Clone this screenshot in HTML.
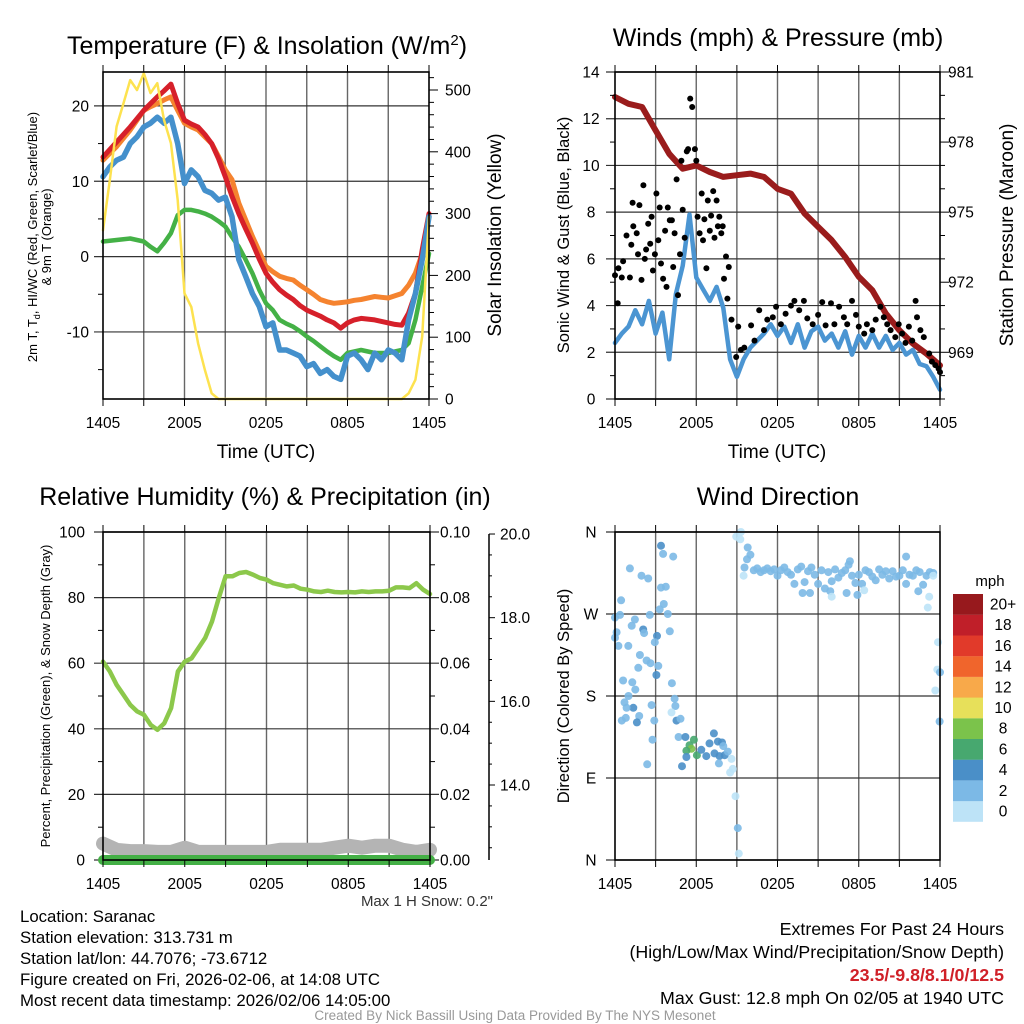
<!DOCTYPE html>
<html><head><meta charset="utf-8"><style>
html,body{margin:0;padding:0;background:#fff;}
svg{display:block;font-family:"Liberation Sans",Arial,sans-serif;}
</style></head><body>
<svg id="fig" width="1024" height="1024" viewBox="0 0 1024 1024" xmlns="http://www.w3.org/2000/svg">
<rect x="0" y="0" width="1024" height="1024" fill="#fff"/>
<g id="marks"></g>
<g id="axes"></g>
<g font-size="25" fill="#000" text-anchor="middle">
<text x="267" y="54">Temperature (F) &amp; Insolation (W/m<tspan dy="-9" font-size="15">2</tspan><tspan dy="9">)</tspan></text>
<text x="778" y="46">Winds (mph) &amp; Pressure (mb)</text>
<text x="265" y="505">Relative Humidity (%) &amp; Precipitation (in)</text>
<text x="778" y="505">Wind Direction</text>
</g>
<g font-size="19" text-anchor="middle">
<text x="266" y="458">Time (UTC)</text>
<text x="777" y="458">Time (UTC)</text>
<text transform="translate(37,237) rotate(-90)" font-size="13">2m T, T<tspan font-size="9" dy="3">d</tspan><tspan dy="-3">, HI/WC (Red, Green, Scarlet/Blue)</tspan></text>
<text transform="translate(51,237) rotate(-90)" font-size="13">&amp; 9m T (Orange)</text>
<text transform="translate(501,235) rotate(-90)">Solar Insolation (Yellow)</text>
<text transform="translate(569,235) rotate(-90)" font-size="16.5">Sonic Wind &amp; Gust (Blue, Black)</text>
<text transform="translate(1013,235) rotate(-90)">Station Pressure (Maroon)</text>
<text transform="translate(50,696) rotate(-90)" font-size="13">Percent, Precipitation (Green), &amp; Snow Depth (Gray)</text>
<text transform="translate(569,696) rotate(-90)" font-size="16.5">Direction (Colored By Speed)</text>
</g>
<g id="cbar">
<text x="990" y="586" font-size="15" text-anchor="middle">mph</text>
</g>
<g font-size="16.8">
<text x="493" y="906" text-anchor="end" fill="#333" font-size="15">Max 1 H Snow: 0.2"</text>
<text x="20" y="922">Location: Saranac</text>
<text x="20" y="943">Station elevation: 313.731 m</text>
<text x="20" y="964">Station lat/lon: 44.7076; -73.6712</text>
<text x="20" y="985">Figure created on Fri, 2026-02-06, at 14:08 UTC</text>
<text x="20" y="1006">Most recent data timestamp: 2026/02/06 14:05:00</text>
<text x="1004" y="935" text-anchor="end" font-size="17.8">Extremes For Past 24 Hours</text>
<text x="1004" y="958" text-anchor="end" font-size="17.8">(High/Low/Max Wind/Precipitation/Snow Depth)</text>
<text x="1004" y="981" text-anchor="end" font-size="17.8" font-weight="bold" fill="#d02028">23.5/-9.8/8.1/0/12.5</text>
<text x="1004" y="1004" text-anchor="end" font-size="17.8">Max Gust: 12.8 mph On 02/05 at 1940 UTC</text>
<text x="515" y="1020" text-anchor="middle" font-size="13.5" fill="#999">Created By Nick Bassill Using Data Provided By The NYS Mesonet</text>
</g>
</svg>
<script>
// ---- data ----
const halfHours = Array.from({length:49},(_,i)=>i*0.5);
const hourly = Array.from({length:25},(_,i)=>i);
const timeTickLabels = ["1405","2005","0205","0805","1405"];
const tempRed = [13.2,14.2,15.2,16.2,17.2,18.3,19.4,20.3,21.2,22.0,22.9,20.3,18.1,17.6,17.2,16.2,15.0,13.0,10.6,8.0,5.7,3.7,1.8,-0.3,-2.2,-3.4,-4.4,-5.1,-5.7,-6.5,-7.1,-7.5,-7.9,-8.4,-8.8,-9.5,-8.8,-8.4,-8.2,-8.3,-8.4,-8.6,-8.8,-9.0,-9.1,-7.5,-4.9,0.9,5.7];
const temp9m = [12.8,13.7,14.6,15.7,16.8,18.1,19.4,19.9,20.3,20.8,21.2,19.4,17.7,17.2,16.8,15.9,15.0,13.3,11.5,10.2,7.1,4.9,2.7,0.7,-1.3,-2.0,-2.6,-2.9,-3.1,-3.8,-4.4,-5.0,-5.7,-6.0,-6.2,-6.1,-6.0,-5.8,-5.7,-5.5,-5.3,-5.4,-5.5,-5.2,-4.9,-3.8,-2.2,0.4,5.3];
const windChill = [10.6,11.9,12.8,13.2,15,15.9,17.2,17.7,18.5,17.7,18.5,15,9.7,11.5,10.6,8.8,8.4,7.5,7.9,5.3,-0.4,-2.6,-4.9,-6.6,-9.3,-8.8,-12.4,-12.4,-12.8,-13.2,-14.6,-14.2,-15.5,-15.0,-15.9,-16.3,-13.2,-12.8,-13.7,-15,-12.8,-13.7,-12.4,-12.8,-13.7,-8.4,-4.9,-0.4,5.3];
const dewPoint = [2.0,2.1,2.2,2.3,2.4,2.2,2.0,1.3,0.7,1.8,3.1,5.5,6.2,6.2,6.0,5.7,5.3,4.7,4.0,2.6,1.3,-0.4,-2.2,-4.4,-6.2,-7.1,-8.4,-8.9,-9.3,-9.9,-10.6,-11.2,-11.9,-12.6,-13.2,-13.7,-12.8,-12.6,-12.4,-12.6,-12.8,-12.8,-12.8,-12.6,-12.4,-11.5,-8.4,-4.0,0.4];
const solar = [273,354,441,478,516,500,527,495,511,451,414,322,171,149,90,47,9,0,0,0,0,0,0,0,0,0,0,0,0,0,0,0,0,0,0,0,0,0,0,0,0,0,0,0,0,9,31,101,295];
const pressure = [979.93,979.64,979.5,978.5,977.5,976.86,977.0,976.72,976.51,976.58,976.65,976.51,976.0,975.79,974.94,974.37,973.8,973.08,972.23,971.66,970.66,969.94,969.37,968.94,968.44];
const windSpeed = [2.4,2.8,3.1,3.8,3.2,4.2,2.8,3.7,1.7,4.5,5.7,7.9,5.2,4.7,4.2,4.8,3.9,1.7,0.95,1.7,2.2,2.5,2.8,3.2,2.7,3.1,2.4,3.2,2.2,2.9,3.1,2.5,2.8,2.2,2.9,1.9,2.7,2.2,2.8,2.2,2.7,2.1,2.4,1.9,2.1,1.5,1.4,0.95,0.4];
const gustHours = [0,0.25,0.2,0.5,0.6,0.85,1.35,1.2,1.1,1.3,1.6,1.7,1.8,1.96,2.1,2.2,2.3,2.45,2.6,2.7,2.8,2.95,3.06,3.2,3.3,3.4,3.55,3.7,3.8,3.9,4.05,4.2,4.3,4.4,4.55,4.65,4.8,4.9,5.0,5.15,5.3,5.4,5.55,5.7,5.9,6.0,6.1,6.25,6.4,6.5,6.6,6.75,6.85,7.0,7.1,7.25,7.35,7.5,7.6,7.7,7.85,7.95,8.05,8.2,8.3,8.4,8.6,8.95,9.1,9.3,9.55,10.05,10.3,10.65,11.0,11.25,11.65,11.9,12.25,12.6,13.0,13.25,13.6,13.95,14.2,14.6,15.0,15.3,15.55,15.95,16.2,16.55,16.9,17.15,17.5,17.8,18.0,18.4,18.6,19.0,19.25,19.6,19.85,20.1,20.35,20.7,20.95,21.2,21.45,21.7,21.95,22.2,22.3,22.55,22.8,23.2,23.4,23.65,23.9,24.0];
const gustSpeeds = [5.3,5.6,4.1,5.2,5.9,7.0,7.4,6.6,5.2,8.4,7.1,6.2,8.3,5.1,9.15,6.0,6.4,7.5,6.65,7.8,5.5,6.2,8.8,6.8,8.2,5.8,5.15,7.2,4.8,8.2,7.65,7.65,5.65,7.1,9.4,4.45,6.2,10.2,8.1,6.9,10.6,10.7,12.86,12.5,10.7,10.2,7.8,7.1,8.8,6.8,7.7,5.6,8.5,7.2,7.85,8.9,6.9,8.5,7.4,7.8,7.1,7.4,5.15,6.1,4.3,5.65,3.4,1.8,3.1,2.1,2.2,3.15,2.5,3.8,2.95,3.4,3.5,3.95,3.2,3.65,4.0,4.2,3.8,4.2,3.45,3.2,3.6,4.15,3.15,4.1,3.2,3.95,3.5,3.2,4.2,3.6,3.1,2.8,3.2,2.95,3.4,3.95,3.5,3.2,2.95,2.65,3.2,2.8,2.4,3.1,2.5,4.2,3.5,2.95,2.65,1.95,1.6,1.45,1.3,1.15];
const humidity = [60.5,57.5,53.4,50.4,47.3,45.3,44.3,41.2,39.7,41.7,46.3,57.5,60.5,61.5,64.6,67.7,72.7,79.9,86.5,86.5,87.5,87.8,87.0,86.0,85.5,84.4,83.9,83.4,83.7,82.7,82.4,81.9,81.7,82.1,81.7,81.6,81.7,81.6,81.9,81.7,81.9,81.9,82.1,83.1,83.1,82.9,84.4,82.4,81.1];
const precip = [0,0,0,0,0,0,0,0,0,0,0,0,0,0,0,0,0,0,0,0,0,0,0,0,0];
const snowDepth = [12.6,12.45,12.42,12.42,12.4,12.4,12.5,12.4,12.4,12.4,12.4,12.4,12.4,12.45,12.45,12.45,12.45,12.5,12.55,12.5,12.55,12.55,12.45,12.4,12.45];
const dirHours = [1.1,1.96,2.45,3.4,3.55,4.3,3.4,3.75,3.6,3.3,3.9,0.45,0,0.37,1.47,1.23,2.08,2.15,2.57,0.12,0,0.25,0.98,3.1,2.94,4.05,1.84,2.33,1.72,2.62,3.2,3.06,0.6,1.28,1.5,1.0,4.2,0.7,1.35,0.86,2.7,4.4,4.46,4.17,0.8,0.5,1.79,1.62,2.9,4.54,4.84,2.77,2.38,
4.7,5.2,5.83,5.5,5.64,5.27,6.05,4.95,5.27,6.37,6.74,6.98,7.3,7.6,7.9,7.35,7.72,8.1,8.0,8.33,7.67,8.6,8.7,8.5,8.9,9.07,9.14,
8.95,9.3,9.25,9.5,9.8,10.0,9.75,9.56,
10.25,10.5,10.75,11,11.25,11.5,11.75,12,12.25,12.5,12.75,13,13.25,13.5,13.75,14,14.25,14.5,14.75,15,15.25,15.5,15.75,16,16.25,16.5,16.75,17,17.25,17.5,17.75,18,18.25,18.5,18.75,19,19.25,19.5,19.75,20,20.25,20.5,20.75,21,21.25,21.5,21.75,22,22.25,22.5,22.75,23,23.25,23.5,
13.85,14.4,15.9,16.0,17.1,17.9,18.4,21.5,17.35,22.4,23.2,23.1,23.5,23.85,23.8,24,23.65,23.97];
const dirDegrees = [320,312,309,345,336,333,299,300,281,275,270,285,266,269,264,257,253,249,269,250,244,235,235,246,239,251,225,219,211,216,213,203,197,195,187,180,194,173,167,167,170,177,169,162,156,153,158,151,153,153,155,132,105,
135,135,132,126,122,120,115,103,113,121,114,128,139,130,129,117,114,115,125,119,106,111,100,96,70,35,7,
355,360,352,312,343,335,330,321,
318,320,316,318,320,317,319,312,318,321,316,313,303,319,322,305,317,321,313,303,318,298,316,306,319,310,315,318,324,312,304,313,303,318,316,311,307,319,313,317,309,317,311,312,318,303,313,312,318,316,302,312,316,315,
293,293,295,289,293,291,296,333,328,295,289,277,312,239,209,206,186,152];
const dirSpeeds = [3,3,3,5,3,3,3,3,3,3,3,3,3,3,3,3,5,3,3,3,3,3,3,5,3,3,3,3,3,3,3,5,3,3,3,3,3,3,5,3,3,3,3,1,3,3,3,5,3,5,3,3,3,
3,5,7,7,9,7,7,5,5,5,5,5,5,5,5,5,5,5,3,3,3,1,1,1,1,3,1,
1,1,1,1,3,3,3,3,
3,3,3,3,3,3,3,3,3,3,3,3,3,3,3,3,3,3,3,3,3,3,3,3,3,3,3,3,3,3,3,3,3,3,3,3,3,3,3,3,3,3,3,3,3,3,3,3,3,3,3,3,3,3,
3,3,3,1,3,3,1,3,3,3,1,1,1,1,1,3,1,3];
const speedBinLabels = ["0","2","4","6","8","10","12","14","16","18","20+"];
const speedBinColors = ["#bde3f7","#7cb9e6","#4a8fc8","#47a86f","#7bc34b","#e7e05a","#f8a94a","#f0652c","#e13a2a","#c01f29","#97191d"];

// ---- scales ----
const NS="http://www.w3.org/2000/svg";
const P1={l:103,r:429,t:72,b:399}, P2={l:615,r:940,t:72,b:399}, P3={l:103,r:430,t:532,b:860}, P4={l:615,r:940,t:532,b:860};
const xs=(P,h)=>P.l+h*(P.r-P.l)/24;
const yTemp=t=>P1.b-(t+18.9)*(P1.b-P1.t)/43.4;
const ySolar=s=>P1.b-s*0.618;
const yWind=v=>P2.b-v*(P2.b-P2.t)/14;
const yPres=p=>P2.b-(p-967)*(P2.b-P2.t)/14;
const yRH=r=>P3.b-r*(P3.b-P3.t)/100;
const yPrecip=p=>P3.b-p*(P3.b-P3.t)/0.1;
const ySnow=s=>P3.b-(s-12.207)*41.83;
const yDir=d=>P4.b-d*(P4.b-P4.t)/360;

const marks=document.getElementById('marks'), axes=document.getElementById('axes');
function mk(tag,attrs,parent){const e=document.createElementNS(NS,tag);for(const k in attrs)e.setAttribute(k,attrs[k]);(parent||axes).appendChild(e);return e;}
function linePts(P,hs,vs,yf){return hs.map((h,i)=>xs(P,h).toFixed(1)+','+yf(vs[i]).toFixed(1)).join(' ');}

// ---- grids ----
[P1,P2,P3,P4].forEach((P,pi)=>{
  for(let k=0;k<=8;k++){
    const x=P.l+k*(P.r-P.l)/8;
    if(k>0&&k<8){
      const g=mk('line',{x1:x,x2:x,y1:P.t,y2:P.b,stroke:'#666','stroke-width':1.4},marks);
      
      
    }
    const tb=mk('line',{x1:x,x2:x,y1:P.b,y2:P.b+7,stroke:'#000','stroke-width':1});
    
    
    const tt=mk('line',{x1:x,x2:x,y1:P.t,y2:P.t-7,stroke:'#000','stroke-width':1});
    
    
  }
  timeTickLabels.forEach((lab,i)=>{
    const t=mk('text',{x:P.l+i*(P.r-P.l)/4,y:P.b+29,'font-size':15.5,'text-anchor':'middle'});
    t.textContent=lab;
    
    
  });
});
function hgrid(y,x1,x2){const g=mk('line',{x1:x1,x2:x2,y1:y,y2:y,stroke:'#333','stroke-width':1.2},marks);
  
  }
function tick(x,y,len,name){const t=mk('line',{x1:x,x2:x+len,y1:y,y2:y,stroke:'#000','stroke-width':1});
  
  }
function label(x,y,txt,anchor,name,fs){const t=mk('text',{x:x,y:y+5.5,'font-size':fs||15.5,'text-anchor':anchor});t.textContent=txt;
  
  }
// P1
[-10,0,10,20].forEach(v=>{hgrid(yTemp(v),P1.l-9,P1.r);label(P1.l-14,yTemp(v),String(v),'end','temp-tick-label');});
[-15,-5,5,15].forEach(v=>tick(P1.l,yTemp(v),-5,'temp-minor-tick'));
for(let s=0;s<=520;s+=20){tick(P1.r,ySolar(s),s%100?5:9,'solar-tick');}
[0,100,200,300,400,500].forEach(s=>label(P1.r+16,ySolar(s),String(s),'start','solar-tick-label'));
// P2
for(let v=0;v<=14;v++){ if(v%2===0){hgrid(yWind(v),P2.l-9,P2.r);label(P2.l-24,yWind(v),String(v),'middle','wind-tick-label');} else tick(P2.l,yWind(v),-5,'wind-minor-tick');}
for(let p=967;p<=981;p++){tick(P2.r,yPres(p),(p%3===0)?9:5,'pressure-tick');}
[969,972,975,978,981].forEach(p=>label(P2.r+8,yPres(p),String(p),'start','pressure-tick-label'));
// P3
for(let r=0;r<=100;r+=10){ if(r%20===0){hgrid(yRH(r),P3.l-9,P3.r+9);label(P3.l-18,yRH(r),String(r),'end','humidity-tick-label');label(P3.r+10,yRH(r),(r/1000).toFixed(2),'start','precip-tick-label');} else {tick(P3.l,yRH(r),-5,'humidity-minor-tick');tick(P3.r,yRH(r),5,'precip-minor-tick');}}
const sa=mk('line',{x1:489,x2:489,y1:ySnow(20),y2:P3.b,stroke:'#000','stroke-width':1.5});


for(let s=12.5;s<=20.01;s+=0.5){tick(489,ySnow(s),(Math.abs(s%2)<0.01)?6:3,'snow-tick');}
[14,16,18,20].forEach(s=>label(500,ySnow(s),s.toFixed(1),'start','snow-tick-label'));
// P4
const dirLabels=["N","E","S","W","N"];
dirLabels.forEach((d,i)=>{hgrid(yDir(i*90),P4.l-9,P4.r);label(P4.l-24,yDir(i*90),d,'middle','direction-tick-label');});
// frames
[P1,P2,P3,P4].forEach(P=>{const f=mk('rect',{x:P.l,y:P.t,width:P.r-P.l,height:P.b-P.t,fill:'none',stroke:'#000','stroke-width':1.6});
  
  });

// ---- series ----
function series(P,hs,vs,yf,color,w){const e=mk('polyline',{points:linePts(P,hs,vs,yf),fill:'none',stroke:color,'stroke-width':w,'stroke-linejoin':'round','stroke-linecap':'round'},marks);return e;}
let s;
s=series(P1,halfHours,temp9m,yTemp,'#f5832f',5);


s=series(P1,halfHours,dewPoint,yTemp,'#44b146',4.5);


s=series(P1,halfHours,tempRed,yTemp,'#d6202a',5);


s=series(P1,halfHours,windChill,yTemp,'#4490cc',5.5);


s=series(P1,halfHours,solar,ySolar,'#fde24f',2.5);



s=series(P2,halfHours,windSpeed,yWind,'#4b95d2',4.5);


s=series(P2,hourly,pressure,yPres,'#9a1c1c',6);


gustHours.forEach((h,i)=>{const c=mk('circle',{cx:xs(P2,h).toFixed(1),cy:yWind(gustSpeeds[i]).toFixed(1),r:3,fill:'#000'},marks);
  
  });

s=series(P3,hourly,snowDepth,ySnow,'#b4b4b4',14);


s=series(P3,hourly,precip,yPrecip,'#44b046',10);


s=series(P3,halfHours,humidity,yRH,'#8cc84b',4.5);



dirHours.forEach((h,i)=>{const bin=Math.min(10,Math.floor(dirSpeeds[i]/2));
  const c=mk('circle',{cx:xs(P4,h).toFixed(1),cy:yDir(dirDegrees[i]).toFixed(1),r:4,fill:speedBinColors[bin],'fill-opacity':0.9},marks);
  
  });

// colorbar
const cb=document.getElementById('cbar');
speedBinLabels.forEach((lab,i)=>{const k=10-i; const y=594+k*20.7;
  const r=mk('rect',{x:953,y:y,width:30,height:20.8,fill:speedBinColors[i]},cb);
  
  
  const t=mk('text',{x:1003,y:y+15.5,'font-size':15.5,'text-anchor':'middle'},cb);
  t.textContent=lab;
  
  });
</script>
</body></html>
